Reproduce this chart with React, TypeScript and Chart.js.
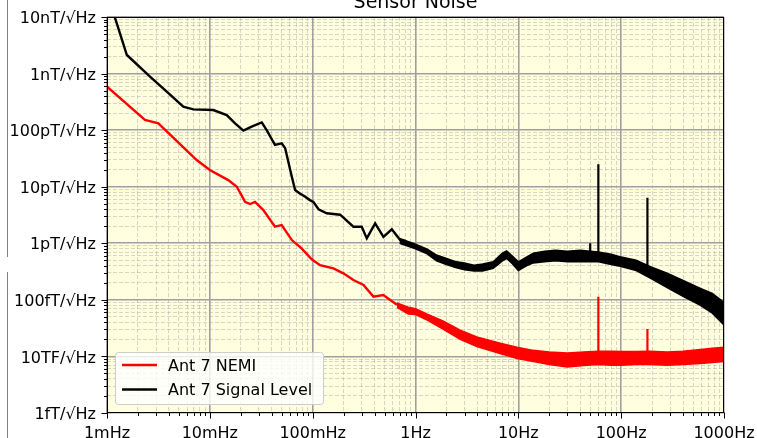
import React, { useEffect, useRef } from 'react';
import { Chart, registerables } from 'chart.js';

Chart.register(...registerables);

// ---------- text ----------
const chartTitle = 'Sensor Noise';
const xTickLabels = ['1mHz', '10mHz', '100mHz', '1Hz', '10Hz', '100Hz', '1000Hz']; // decades 1e-3 .. 1e3
const yTickLabels = ['1fT/√Hz', '10TF/√Hz', '100fT/√Hz', '1pT/√Hz', '10pT/√Hz', '100pT/√Hz', '1nT/√Hz', '10nT/√Hz']; // 1e-15 .. 1e-8
const seriesLabels = ['Ant 7 NEMI', 'Ant 7 Signal Level'];
const seriesColors = ['#ff0000', '#000000'];

// ---------- Ant 7 NEMI (T/√Hz) ----------
const nemiFreq = [0.001, 0.00234, 0.00316, 0.00745, 0.01, 0.0151, 0.0183, 0.022, 0.0246, 0.0275, 0.033, 0.043, 0.05, 0.0627, 0.078, 0.098, 0.118, 0.159, 0.199, 0.249, 0.312, 0.39, 0.486, 0.66];
const nemiValues = [5.9e-10, 1.51e-10, 1.32e-10, 2.96e-11, 1.97e-11, 1.31e-11, 1.0e-11, 5.4e-12, 4.95e-12, 5.4e-12, 3.9e-12, 1.96e-12, 2.1e-12, 1.14e-12, 8.1e-13, 5.2e-13, 4.1e-13, 3.6e-13, 2.94e-13, 2.24e-13, 1.83e-13, 1.14e-13, 1.22e-13, 8.2e-14];
const nemiBandFreq = [0.66, 0.85, 1, 1.3, 1.87, 2.72, 3.95, 6.65, 9.7, 14, 20, 30, 43, 60, 80, 100, 140, 190, 280, 400, 590, 770, 1000];
const nemiBandHigh = [8.8e-14, 7.4e-14, 7.0e-14, 5.6e-14, 4.2e-14, 2.9e-14, 2.2e-14, 1.72e-14, 1.45e-14, 1.28e-14, 1.2e-14, 1.15e-14, 1.2e-14, 1.24e-14, 1.24e-14, 1.22e-14, 1.22e-14, 1.24e-14, 1.2e-14, 1.24e-14, 1.33e-14, 1.4e-14, 1.45e-14];
const nemiBandLow = [7.4e-14, 5.6e-14, 5.5e-14, 4.4e-14, 3.0e-14, 2.0e-14, 1.5e-14, 1.12e-14, 9.2e-15, 8.1e-15, 7.2e-15, 6.5e-15, 6.9e-15, 7.2e-15, 7.0e-15, 7.0e-15, 7.2e-15, 7.2e-15, 7.0e-15, 7.2e-15, 7.5e-15, 7.8e-15, 8.1e-15];
const nemiSpikeFreq = [60, 180];
const nemiSpikeTop = [1.14e-13, 3.05e-14];
const nemiSpikeBase = [1.0e-14, 1.0e-14];

// ---------- Ant 7 Signal Level (T/√Hz) ----------
const signalFreq = [0.001, 0.00156, 0.00262, 0.00381, 0.00552, 0.0069, 0.0108, 0.0146, 0.0176, 0.0212, 0.0255, 0.032, 0.0357, 0.043, 0.05, 0.054, 0.0627, 0.0675, 0.075, 0.084, 0.094, 0.1016, 0.114, 0.137, 0.185, 0.249, 0.3, 0.336, 0.405, 0.488, 0.588, 0.71, 0.8];
const signalValues = [2.7e-8, 2.13e-9, 8.8e-10, 4.8e-10, 2.6e-10, 2.33e-10, 2.27e-10, 1.85e-10, 1.32e-10, 9.8e-11, 1.15e-10, 1.37e-10, 1.0e-10, 5.5e-11, 5.85e-11, 4.8e-11, 1.5e-11, 8.75e-12, 7.6e-12, 6.7e-12, 5.8e-12, 5.4e-12, 4.0e-12, 3.4e-12, 3.2e-12, 1.96e-12, 1.96e-12, 1.22e-12, 2.25e-12, 1.3e-12, 1.77e-12, 1.14e-12, 1.1e-12];
const signalBandFreq = [0.7, 1, 1.3, 1.6, 2, 2.5, 3, 3.7, 4.5, 5.7, 7, 7.7, 8.8, 10, 12, 14, 18, 23, 30, 40, 50, 60, 80, 100, 140, 190, 280, 400, 590, 770, 1000];
const signalBandHigh = [1.22e-12, 9.6e-13, 7.9e-13, 6.2e-13, 5.4e-13, 4.7e-13, 4.5e-13, 4.1e-13, 4.3e-13, 4.7e-13, 6.7e-13, 7.3e-13, 5.9e-13, 4.7e-13, 5.7e-13, 6.7e-13, 7.2e-13, 7.5e-13, 7.2e-13, 7.5e-13, 7.2e-13, 7.0e-13, 6.4e-13, 5.7e-13, 5.0e-13, 3.9e-13, 2.95e-13, 2.2e-13, 1.6e-13, 1.3e-13, 9.0e-14];
const signalBandLow = [1.0e-12, 8.0e-13, 6.5e-13, 4.9e-13, 4.2e-13, 3.7e-13, 3.4e-13, 3.25e-13, 3.25e-13, 3.6e-13, 4.9e-13, 5.4e-13, 4.3e-13, 3.3e-13, 4.0e-13, 4.5e-13, 4.7e-13, 4.9e-13, 4.7e-13, 4.7e-13, 4.7e-13, 4.7e-13, 4.2e-13, 3.9e-13, 3.3e-13, 2.45e-13, 1.65e-13, 1.15e-13, 8.0e-14, 5.8e-14, 3.6e-14];
const signalSpikeFreq = [50, 60, 180];
const signalSpikeTop = [1.0e-12, 2.5e-11, 6.4e-12];
const signalSpikeBase = [6.5e-13, 6.5e-13, 3.5e-13];

// ---------- helpers ----------
const X_MIN_EXP = -3;
const X_MAX_EXP = 3;
const Y_MIN_EXP = -15;
const Y_MAX_EXP = -8;
const FONT = '"DejaVu Sans", sans-serif';

function decadeTicks(lo: number, hi: number) {
  const t: { value: number }[] = [];
  for (let e = lo; e <= hi; e++) {
    for (let m = 1; m <= 9; m++) {
      if (e === hi && m > 1) break;
      t.push({ value: Number((m * Math.pow(10, e)).toPrecision(12)) });
    }
  }
  return t;
}
function isMajor(v: number) {
  const l = Math.log10(v);
  return Math.abs(l - Math.round(l)) < 1e-9;
}
function pts(xs: number[], ys: number[]) {
  return xs.map((x, i) => ({ x, y: ys[i] }));
}
function spikePts(xs: number[], base: number[], top: number[]) {
  const out: { x: number; y: number | null }[] = [];
  xs.forEach((x, i) => {
    out.push({ x, y: base[i] });
    out.push({ x, y: top[i] });
    out.push({ x, y: null });
  });
  return out;
}

const decorPlugin = {
  id: 'decor',
  beforeDraw(chart: any) {
    const { ctx, chartArea: a } = chart;
    ctx.save();
    ctx.fillStyle = '#ffffe0';
    ctx.fillRect(a.left, a.top, a.right - a.left, a.bottom - a.top);
    ctx.restore();
  },
  afterDraw(chart: any) {
    const { ctx, chartArea: a } = chart;
    const xs = chart.scales.x;
    const ys = chart.scales.y;
    ctx.save();
    // page edge line
    ctx.strokeStyle = '#808080';
    ctx.lineWidth = 1;
    ctx.beginPath();
    ctx.moveTo(7.5, 0);
    ctx.lineTo(7.5, 257);
    ctx.moveTo(7.5, 272);
    ctx.lineTo(7.5, 438);
    ctx.stroke();

    // spines
    ctx.strokeStyle = '#000';
    ctx.lineWidth = 1;
    const L = Math.round(a.left) + 0.5, R = Math.round(a.right) - 0.5;
    const T = Math.round(a.top) + 0.5, B = Math.round(a.bottom) - 0.5;
    ctx.strokeRect(L, T, R - L, B - T);

    // tick marks
    ctx.beginPath();
    xs.ticks.forEach((t: any) => {
      const p = Math.round(xs.getPixelForValue(t.value)) + 0.5;
      const len = isMajor(t.value) ? 6 : 3.5;
      ctx.moveTo(p, B);
      ctx.lineTo(p, B + len);
    });
    ys.ticks.forEach((t: any) => {
      const p = Math.round(ys.getPixelForValue(t.value)) + 0.5;
      const len = isMajor(t.value) ? 6 : 3.5;
      ctx.moveTo(L, p);
      ctx.lineTo(L - len, p);
    });
    ctx.stroke();

    // title
    ctx.fillStyle = '#000';
    ctx.font = `19px ${FONT}`;
    ctx.textAlign = 'center';
    ctx.textBaseline = 'alphabetic';
    ctx.fillText(chartTitle, (a.left + a.right) / 2, 8);

    // legend
    const lx = 115.5, ly = 352.5, lw = 208, lh = 52;
    ctx.beginPath();
    ctx.roundRect(lx, ly, lw, lh, 3);
    ctx.fillStyle = 'rgba(255,255,255,0.8)';
    ctx.fill();
    ctx.strokeStyle = '#cccccc';
    ctx.lineWidth = 1;
    ctx.stroke();
    ctx.font = `16px ${FONT}`;
    ctx.textAlign = 'left';
    ctx.textBaseline = 'middle';
    seriesLabels.forEach((label, i) => {
      const y = 365 + i * 24.5;
      ctx.strokeStyle = seriesColors[i];
      ctx.lineWidth = 2.5;
      ctx.beginPath();
      ctx.moveTo(122, y);
      ctx.lineTo(157, y);
      ctx.stroke();
      ctx.fillStyle = '#000';
      ctx.fillText(label, 168, y + 1.5);
    });
    ctx.restore();
  },
};

function gridColor(c: any) {
  return c.tick && isMajor(c.tick.value) ? '#a0a0a0' : 'rgba(150,150,150,0.38)';
}
function gridWidth(c: any) {
  return c.tick && isMajor(c.tick.value) ? 1.6 : 1;
}
function gridDash(c: any) {
  return c.tick && !isMajor(c.tick.value) ? [4, 2] : [];
}

export default function App() {
  const ref = useRef<HTMLCanvasElement | null>(null);
  useEffect(() => {
    if (!ref.current) return;
    const lineBase = { pointRadius: 0, borderWidth: 2.4, tension: 0, fill: false };
    const chart = new Chart(ref.current, {
      type: 'line',
      data: {
        datasets: [
          { ...lineBase, label: seriesLabels[0], data: pts(nemiFreq, nemiValues), borderColor: seriesColors[0] },
          { ...lineBase, label: 'nemi-band-high', data: pts(nemiBandFreq, nemiBandHigh), borderColor: seriesColors[0], borderWidth: 1.5 },
          { ...lineBase, label: 'nemi-band-low', data: pts(nemiBandFreq, nemiBandLow), borderColor: seriesColors[0], borderWidth: 1.5, fill: '-1', backgroundColor: seriesColors[0] },
          { ...lineBase, label: 'nemi-spikes', data: spikePts(nemiSpikeFreq, nemiSpikeBase, nemiSpikeTop), borderColor: seriesColors[0], borderWidth: 2.2, spanGaps: false },
          { ...lineBase, label: seriesLabels[1], data: pts(signalFreq, signalValues), borderColor: seriesColors[1] },
          { ...lineBase, label: 'signal-band-high', data: pts(signalBandFreq, signalBandHigh), borderColor: seriesColors[1], borderWidth: 1.5 },
          { ...lineBase, label: 'signal-band-low', data: pts(signalBandFreq, signalBandLow), borderColor: seriesColors[1], borderWidth: 1.5, fill: '-1', backgroundColor: seriesColors[1] },
          { ...lineBase, label: 'signal-spikes', data: spikePts(signalSpikeFreq, signalSpikeBase, signalSpikeTop), borderColor: seriesColors[1], borderWidth: 2.2, spanGaps: false },
        ] as any,
      },
      options: {
        animation: false,
        responsive: false,
        maintainAspectRatio: false,
        layout: { padding: { left: 0, right: 33, top: 17, bottom: 0 } },
        plugins: {
          legend: { display: false },
          title: { display: false },
          tooltip: { enabled: false },
        },
        scales: {
          x: {
            type: 'logarithmic',
            min: Math.pow(10, X_MIN_EXP),
            max: Math.pow(10, X_MAX_EXP),
            afterBuildTicks: (s: any) => { s.ticks = decadeTicks(X_MIN_EXP, X_MAX_EXP); },
            afterFit: (s: any) => { s.height = 25; s.paddingLeft = 0; s.paddingRight = 0; s.paddingTop = 0; s.paddingBottom = 0; },
            ticks: {
              autoSkip: false,
              maxRotation: 0,
              minRotation: 0,
              padding: 11,
              color: '#000',
              font: { family: FONT, size: 16 },
              callback: (v: any) => (isMajor(Number(v)) ? xTickLabels[Math.round(Math.log10(Number(v))) - X_MIN_EXP] : ''),
            },
            grid: { color: gridColor, lineWidth: gridWidth, drawTicks: false },
            border: { display: false, dash: gridDash },
          },
          y: {
            type: 'logarithmic',
            min: Math.pow(10, Y_MIN_EXP),
            max: Math.pow(10, Y_MAX_EXP),
            afterBuildTicks: (s: any) => { s.ticks = decadeTicks(Y_MIN_EXP, Y_MAX_EXP); },
            afterFit: (s: any) => { s.width = 107; s.paddingLeft = 0; s.paddingRight = 0; s.paddingTop = 0; s.paddingBottom = 0; },
            ticks: {
              autoSkip: false,
              padding: 11,
              labelOffset: 2,
              color: '#000',
              font: { family: FONT, size: 16 },
              callback: (v: any) => (isMajor(Number(v)) ? yTickLabels[Math.round(Math.log10(Number(v))) - Y_MIN_EXP] : ''),
            },
            grid: { color: gridColor, lineWidth: gridWidth, drawTicks: false },
            border: { display: false, dash: gridDash },
          },
        },
      } as any,
      plugins: [decorPlugin],
    });
    return () => chart.destroy();
  }, []);
  return (
    <div style={{ position: 'fixed', left: 0, top: 0, width: 757, height: 438, background: '#fff' }}>
      <canvas ref={ref} width={757} height={438} style={{ display: 'block' }} />
    </div>
  );
}
